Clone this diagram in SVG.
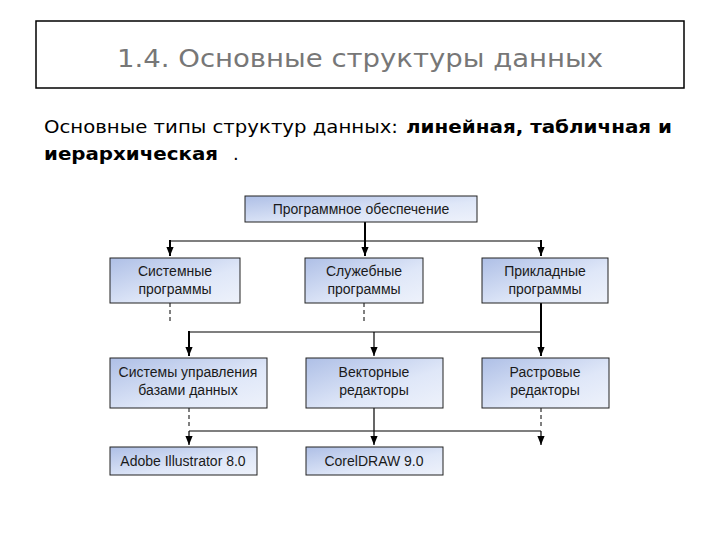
<svg xmlns="http://www.w3.org/2000/svg" width="720" height="540" viewBox="0 0 720 540">
<defs>
<linearGradient id="g" x1="0" y1="0" x2="1" y2="1">
<stop offset="0" stop-color="#aebfe6"/>
<stop offset="0.6" stop-color="#dfe7f8"/>
<stop offset="1" stop-color="#eef2fb"/>
</linearGradient>
<marker id="a" viewBox="0 0 10 10" refX="10" refY="5" markerWidth="9" markerHeight="9" orient="auto" markerUnits="userSpaceOnUse">
<path d="M0,1 L10,5 L0,9 z" fill="#000"/>
</marker>
</defs>
<style>
.box{fill:url(#g);stroke:#222;stroke-width:1}
.t{font-family:"Liberation Sans",Arial,sans-serif;font-size:14px;fill:#1a1a1a;text-anchor:middle}
.c{fill:none;stroke:#000}
.th{stroke-width:2}
.tn{stroke-width:1.2}
.d{stroke-dasharray:4,3;stroke-width:1}
</style>
<rect width="720" height="540" fill="#fff"/>
<g id="title">
<rect x="36" y="21" width="648" height="67" fill="#fff" stroke="#000" stroke-width="1.5"/>
<text x="360" y="67" font-family="DejaVu Sans,Verdana,sans-serif" font-size="24" fill="#777" text-anchor="middle" textLength="486" lengthAdjust="spacingAndGlyphs">1.4. Основные структуры данных</text>
</g>
<g id="subtitle" font-family="DejaVu Sans,Verdana,sans-serif" font-size="18" fill="#000">
<text x="44" y="133" textLength="354" lengthAdjust="spacingAndGlyphs">Основные типы структур данных:</text>
<text x="406" y="133" font-weight="bold" textLength="266" lengthAdjust="spacingAndGlyphs">линейная, табличная и</text>
<text x="44" y="160" font-weight="bold" textLength="174" lengthAdjust="spacingAndGlyphs">иерархическая</text>
<text x="233" y="160">.</text>
</g>
<g id="connectors">
<path class="c th" d="M365,222 V256" marker-end="url(#a)"/>
<path class="c tn" d="M170,241 H541"/>
<path class="c th" d="M170,240 V256" marker-end="url(#a)"/>
<path class="c th" d="M541,240 V256" marker-end="url(#a)"/>
<path class="c d" d="M170,303 V322"/>
<path class="c d" d="M364,303 V322"/>
<path class="c th" d="M541,303 V356" marker-end="url(#a)"/>
<path class="c tn" d="M189,332 H541"/>
<path class="c th" d="M189,331 V356" marker-end="url(#a)"/>
<path class="c tn" d="M374,332 V356" marker-end="url(#a)"/>
<path class="c d" d="M189,408 V427"/>
<path class="c tn" d="M374,408 V445" marker-end="url(#a)"/>
<path class="c d" d="M541,408 V427"/>
<path class="c tn" d="M189,431 H541"/>
<path class="c tn" d="M189,431 V445" marker-end="url(#a)"/>
<path class="c tn" d="M541,431 V445" marker-end="url(#a)"/>
</g>
<g id="n0"><rect class="box" x="245" y="196" width="232" height="26"/><text class="t" x="361" y="214">Программное обеспечение</text></g>
<g id="n1"><rect class="box" x="110" y="258" width="130" height="45"/><text class="t" x="175" y="276">Системные</text><text class="t" x="175" y="294">программы</text></g>
<g id="n2"><rect class="box" x="305" y="258" width="118" height="45"/><text class="t" x="364" y="276">Служебные</text><text class="t" x="364" y="294">программы</text></g>
<g id="n3"><rect class="box" x="482" y="258" width="126" height="45"/><text class="t" x="545" y="276">Прикладные</text><text class="t" x="545" y="294">программы</text></g>
<g id="n4"><rect class="box" x="110" y="358" width="157" height="50"/><text class="t" x="188" y="377">Системы управления</text><text class="t" x="188" y="395">базами данных</text></g>
<g id="n5"><rect class="box" x="306" y="358" width="137" height="50"/><text class="t" x="374" y="377">Векторные</text><text class="t" x="374" y="395">редакторы</text></g>
<g id="n6"><rect class="box" x="482" y="358" width="127" height="50"/><text class="t" x="545" y="377">Растровые</text><text class="t" x="545" y="395">редакторы</text></g>
<g id="n7"><rect class="box" x="110" y="447" width="147" height="28"/><text class="t" x="183" y="466">Adobe Illustrator 8.0</text></g>
<g id="n8"><rect class="box" x="306" y="447" width="137" height="28"/><text class="t" x="374" y="466">CorelDRAW 9.0</text></g>
</svg>
